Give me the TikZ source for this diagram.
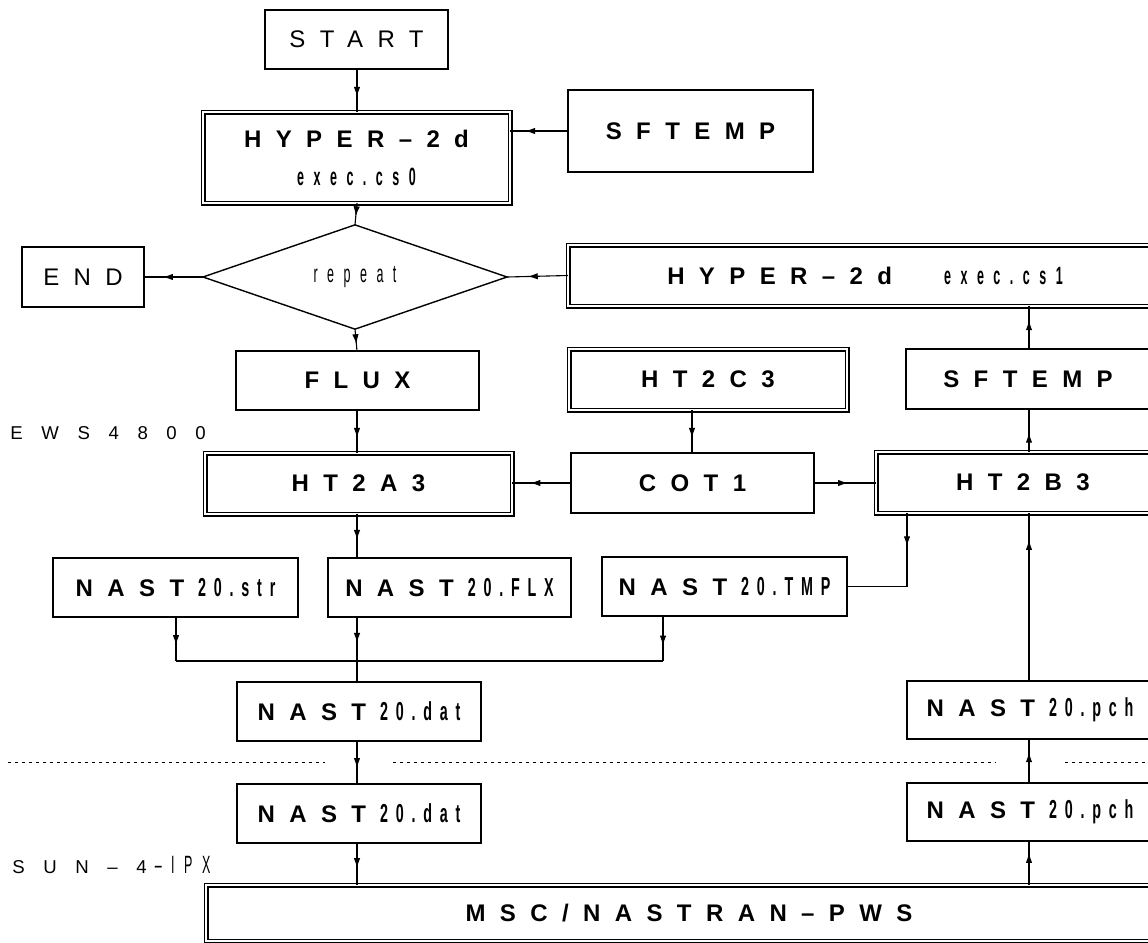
\documentclass[tikz,border=0pt]{standalone}
\usepackage{fontspec}
\setmainfont{Liberation Sans}
\newfontfamily\spfont{Liberation Sans}[LetterSpace=60]
\newfontfamily\regfont{Liberation Sans}[LetterSpace=100]
\newfontfamily\narfont{Liberation Sans}[FakeStretch=0.5,LetterSpace=38]
\newfontfamily\narbfont{Liberation Sans}[UprightFont={* Bold},FakeStretch=0.55,LetterSpace=30]
\usetikzlibrary{shapes.geometric,decorations.markings,arrows.meta}
\newcommand\lblB{\spfont\bfseries\fontsize{12}{14}\selectfont}
\newcommand\lblR{\spfont\fontsize{12}{14}\selectfont}
\newcommand\narB{\narbfont\fontsize{13}{14}\selectfont}
\newcommand\narR{\narfont\fontsize{12.5}{14}\selectfont}
\newcommand\nastlbl[1]{{\lblB NAST}\hspace{7pt}{\narB #1}}
% \boxat{style}{x1}{y1}{x2}{y2}{name}{text}
\newcommand\boxat[7]{\node[#1, minimum width={(#4-#2)*0.5pt}, minimum height={(#5-#3)*0.5pt}] (#6) at ({(#2+#4)/2},{(#3+#5)/2}) {#7};}
\tikzset{
  box/.style={draw, line width=0.7pt, inner sep=0pt, outer sep=0pt, font=\lblB},
  dbox/.style={box, double, double distance=1.1pt},
  con/.style={line width=0.55pt},
  marr/.style={postaction={decorate}, decoration={markings, mark=at position #1 with {\arrow{Latex[length=5pt,width=3.2pt]}}}},
  dotln/.style={line width=0.45pt, dash pattern=on 1.3pt off 2.2pt},
  side/.style={anchor=west, inner sep=0pt, font=\regfont\fontsize{9.3}{11}\selectfont},
}
\begin{document}
\begin{tikzpicture}[x=0.5pt,y=-0.5pt]
\clip (0,0) rectangle (1148,943);
\fill[white] (0,0) rectangle (1148,943);
% column coordinates
\coordinate (colA) at (357,0);
\coordinate (colB) at (1029,0);
\coordinate (colC) at (692,0);
\coordinate (colD) at (907,0);
\coordinate (colE) at (176,0);
\coordinate (colF) at (663,0);
\coordinate (mergeL) at (176,661);
\coordinate (mergeM) at (357,661);
\coordinate (mergeR) at (663,661);
% nodes
\boxat{box, font=\lblR}{265}{10}{448}{69}{start}{START}
\boxat{dbox, align=center}{203}{112}{510}{203}{hyper0}{HYPER–2d\\[5pt]{\narR exec.cs0}}
\boxat{box}{568}{90}{813}{172}{sftemp0}{SFTEMP}
\boxat{box, font=\lblR}{22}{247}{144}{307}{end}{END}
\node[draw, diamond, minimum width=152pt, minimum height=29.5pt, inner sep=0pt, outer sep=0pt, line width=0.7pt, font=\narR] (rep) at (355,277) {repeat};
\boxat{dbox}{568}{245}{1162}{306}{hyper2}{HYPER–2d\hspace{26pt}{\narR exec.cs1}}
\boxat{box}{236}{351}{479}{410}{flux}{FLUX}
\boxat{dbox}{569}{349}{847}{410}{ht2c3}{HT2C3}
\boxat{box}{906}{349}{1150}{409}{sftemp2}{SFTEMP}
\boxat{dbox}{205}{453}{512}{514}{ht2a3}{HT2A3}
\boxat{box}{571}{453}{814}{513}{cot1}{COT1}
\boxat{dbox}{876}{452}{1170}{513}{ht2b3}{HT2B3}
\boxat{box}{53}{558}{298}{617}{str}{\nastlbl{20.str}}
\boxat{box}{328}{558}{571}{617}{flx}{\nastlbl{20.FLX}}
\boxat{box}{602}{557}{847}{616}{tmp}{\nastlbl{20.TMP}}
\boxat{box}{237}{682}{481}{741}{dat1}{\nastlbl{20.dat}}
\boxat{box}{237}{784}{481}{843}{dat2}{\nastlbl{20.dat}}
\boxat{box}{907}{681}{1153}{739}{pch1}{\nastlbl{20.pch}}
\boxat{box}{907}{783}{1153}{841}{pch2}{\nastlbl{20.pch}}
\boxat{dbox}{206}{885}{1172}{941}{msc}{MSC/NASTRAN–PWS}
\node[side] (ews) at (10,433) {EWS4800};
\node[side] (sun) at (12,865) {SUN–4\hspace{4pt}{\narR –IPX}};
% connectors
\draw[con, marr=0.65] (start.south -| colA) -- (hyper0.north -| colA);
\draw[con, marr=0.74] (sftemp0.west) -- (sftemp0.west -| hyper0.east);
\draw[con, marr=0.61] (hyper0.south -| colA) -- (rep.north);
\draw[con, marr=0.66] (hyper2.west) -- (rep.east);
\draw[con, marr=0.68] (rep.west) -- (end.east);
\draw[con, marr=0.69] (rep.south) -- (flux.north -| colA);
\draw[con, marr=0.65] (flux.south -| colA) -- (ht2a3.north -| colA);
\draw[con, marr=0.65] (ht2c3.south -| colC) -- (cot1.north -| colC);
\draw[con, marr=0.69] (cot1.west) -- (cot1.west -| ht2a3.east);
\draw[con, marr=0.55] (cot1.east) -- (cot1.east -| ht2b3.west);
\draw[con, marr=0.45] (ht2b3.north -| colB) -- (sftemp2.south -| colB);
\draw[con, marr=0.67] (sftemp2.north -| colB) -- (hyper2.south -| colB);
\draw[con, marr=0.59] (ht2a3.south -| colA) -- (flx.north -| colA);
\draw[con, marr=0.25] (ht2b3.south -| colD) |- (tmp.east);
\draw[con, marr=0.64] (str.south -| colE) -- (mergeL);
\draw[con, marr=0.59] (flx.south -| colA) -- (mergeM);
\draw[con, marr=0.66] (tmp.south -| colF) -- (mergeR);
\draw[con] (mergeL) -- (mergeR);
\draw[con] (mergeM) -- (dat1.north -| colA);
\draw[con, marr=0.63] (dat1.south -| colA) -- (dat2.north -| colA);
\draw[con, marr=0.6] (dat2.south -| colA) -- (msc.north -| colA);
\draw[con, marr=0.73] (msc.north -| colB) -- (pch2.south -| colB);
\draw[con, marr=0.7] (pch2.north -| colB) -- (pch1.south -| colB);
\draw[con, marr=0.84] (pch1.north -| colB) -- (ht2b3.south -| colB);
% dotted border between machines
\draw[dotln] (8,762) -- (325,762);
\draw[dotln] (393,762) -- (996,762);
\draw[dotln] (1065,762) -- (1148,762);
\end{tikzpicture}
\end{document}
